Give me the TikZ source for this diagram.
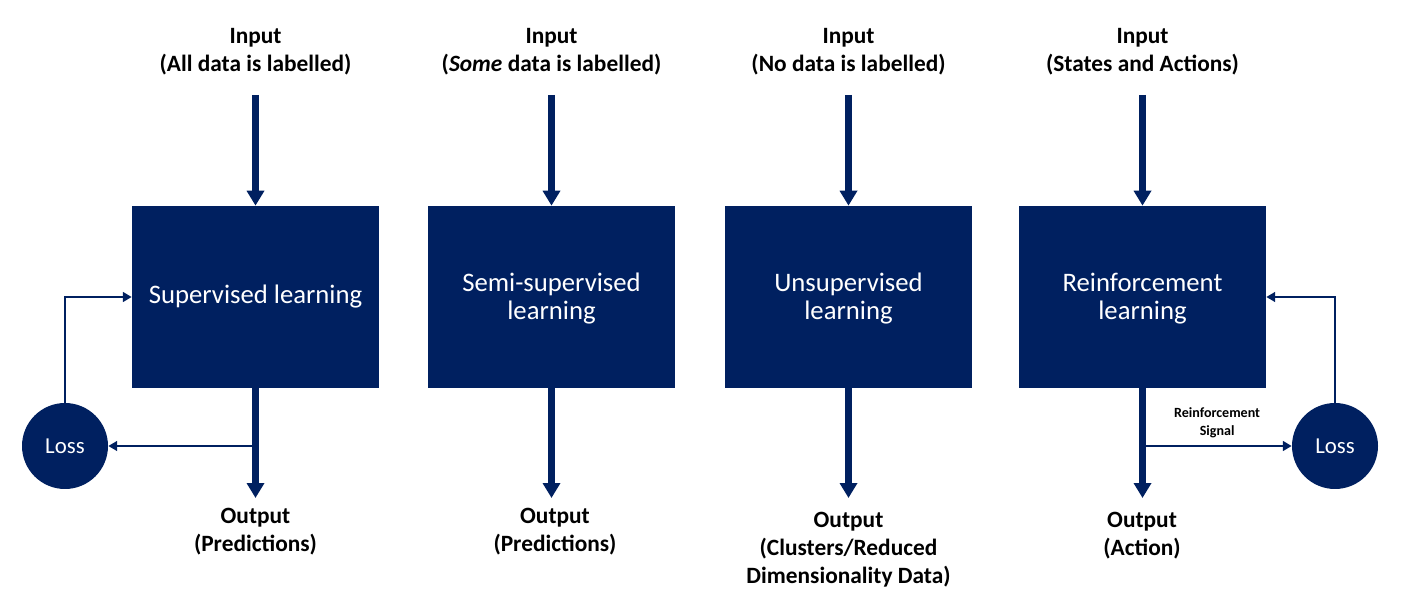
\documentclass[tikz,border=0pt]{standalone}
\usepackage{fontspec}
\setmainfont{Carlito}
\usetikzlibrary{arrows.meta}
\definecolor{navy}{RGB}{0,32,96}
\begin{document}
\begin{tikzpicture}[x=0.02cm,y=-0.02cm,
  mlbox/.style={fill=navy,draw=none,minimum width=4.94cm,minimum height=3.64cm,inner sep=0pt,
    text=white,align=center,font=\fontsize{15.2}{15.9}\selectfont},
  lossnode/.style={circle,fill=navy,draw=none,minimum size=1.72cm,inner sep=0pt,
    text=white,font=\fontsize{13}{14}\selectfont},
  lbl/.style={align=center,inner sep=0pt,font=\fontsize{13.3}{15.9}\selectfont\bfseries},
  thickarrow/.style={draw=navy,line width=3.5pt,-{Triangle[width=9.6pt,length=8.5pt]}},
  thinarrow/.style={draw=navy,line width=1.6pt,-{Triangle[width=5.5pt,length=5pt]}},
  siglbl/.style={align=center,inner sep=1pt,font=\fontsize{8}{10}\selectfont\bfseries}]
\useasboundingbox (0,0) rectangle (1412,607);
% boxes
\node[mlbox] (b1) at (255.5,297) {\raisebox{-1.7pt}{Supervised learning}};
\node[mlbox] (b2) at (551.5,297) {\rule{0pt}{12.5pt}Semi-supervised\\learning};
\node[mlbox] (b3) at (848.5,297) {\rule{0pt}{12.5pt}Unsupervised\\learning};
\node[mlbox] (b4) at (1142.5,297) {\rule{0pt}{12.5pt}Reinforcement\\learning};
% inputs
\node[lbl] (i1) at (255.5,52) {Input\\(All data is labelled)};
\node[lbl] (i2) at (551.5,52) {Input\\(\textit{Some} data is labelled)};
\node[lbl] (i3) at (848.5,52) {Input\\(No data is labelled)};
\node[lbl] (i4) at (1142.5,52) {Input\\(States and Actions)};
% outputs
\node[lbl] (o1) at (255.5,532) {Output\\(Predictions)};
\node[lbl] (o2) at (555,532) {Output\\(Predictions)};
\node[lbl] (o3) at (848.5,550) {Output\\(Clusters/Reduced\\Dimensionality Data)};
\node[lbl] (o4) at (1142,536) {Output\\(Action)};
% loss
\node[lossnode] (l1) at (65,446) {Loss};
\node[lossnode] (l2) at (1335,446) {Loss};
% input arrows
\foreach \k in {1,2,3,4}{
  \draw[thickarrow] (b\k.north |- 0,95) -- (b\k.north);
}
% output arrows
\foreach \k in {1,2,3,4}{
  \draw[thickarrow] (b\k.south) -- (b\k.south |- 0,498);
}
% supervised loop
\coordinate (j1) at (b1.south |- l1.center);
\draw[thinarrow] (j1) -- (l1.east);
\draw[thinarrow] (l1.north) |- (b1.west);
% reinforcement loop
\coordinate (j4) at (b4.south |- l2.center);
\draw[thinarrow] (j4) -- node[siglbl,above=3pt] {Reinforcement\\Signal} (l2.west);
\draw[thinarrow] (l2.north) |- (b4.east);
\end{tikzpicture}
\end{document}
